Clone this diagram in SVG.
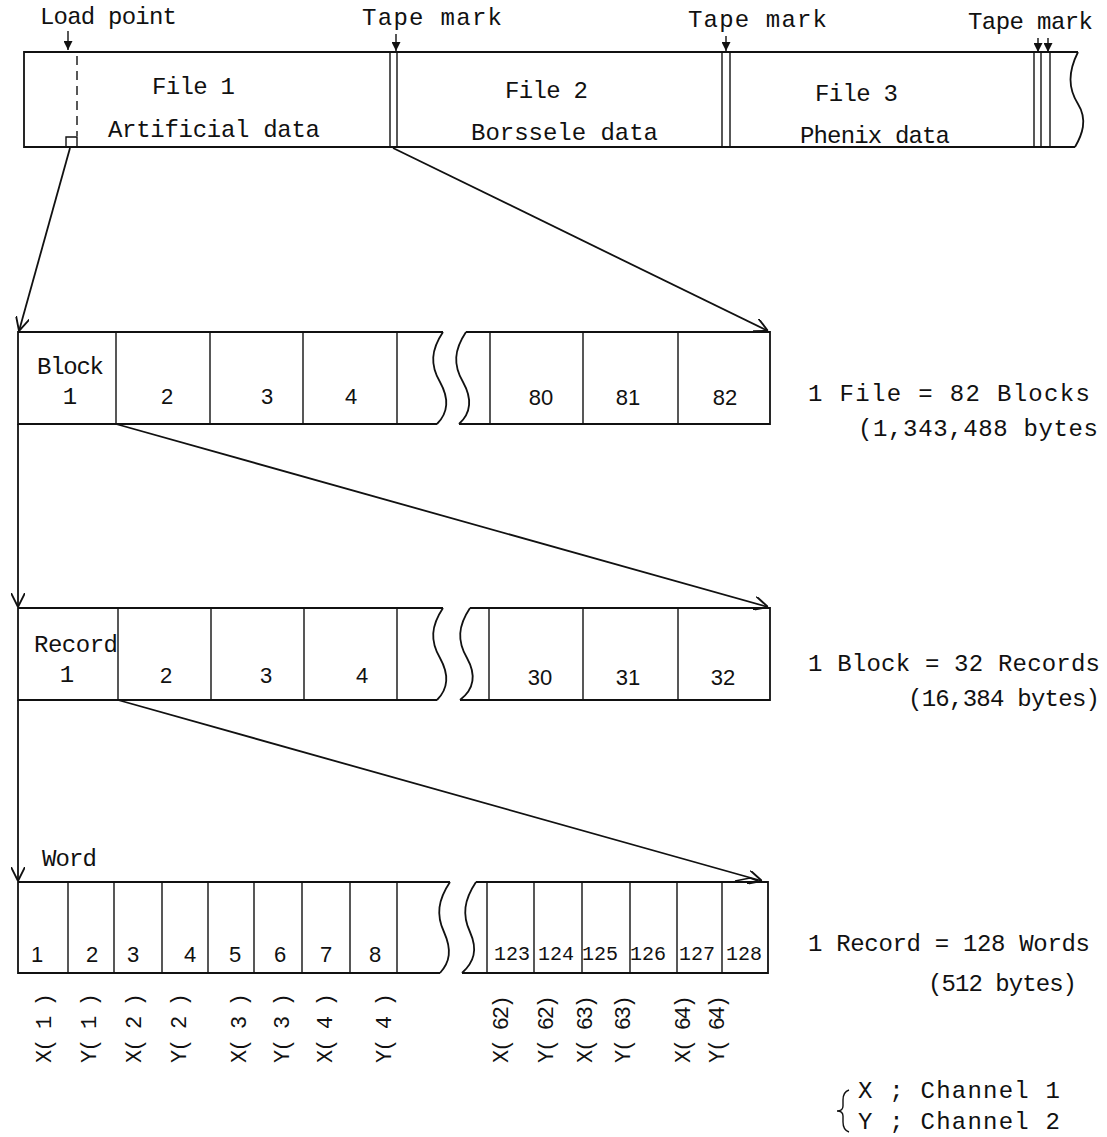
<svg xmlns="http://www.w3.org/2000/svg" width="1107" height="1137" viewBox="0 0 1107 1137">
<style>
.ln{stroke:#111;stroke-width:1.8;fill:none}
.thin{stroke:#111;stroke-width:1.4;fill:none}
.t{font-family:"Liberation Mono","DejaVu Sans Mono",monospace;font-size:24px;fill:#111}
.n{font-family:"Liberation Sans",Arial,sans-serif;font-size:22px;fill:#111;text-anchor:middle}
.w{font-family:"Liberation Mono","DejaVu Sans Mono",monospace;font-size:20px;fill:#111;text-anchor:middle}
.r{font-family:"Liberation Mono","DejaVu Sans Mono",monospace;font-size:22px;fill:#111;dominant-baseline:central}
</style>
<defs>
<marker id="open" viewBox="0 0 12 12" refX="12" refY="6" markerWidth="14" markerHeight="14" markerUnits="userSpaceOnUse" orient="auto">
<path d="M0,0 L12,6 L0,12" fill="none" stroke="#111" stroke-width="1.6"/>
</marker>
<marker id="solid" viewBox="0 0 10 10" refX="10" refY="5" markerWidth="9" markerHeight="9" markerUnits="userSpaceOnUse" orient="auto">
<path d="M0,0 L10,5 L0,10 Z" fill="#111"/>
</marker>
</defs>
<rect width="1107" height="1137" fill="#fff"/>

<g id="tape">
<path class="ln" d="M1078,52 L24,52 L24,147 L1075,147"/>
<path class="ln" d="M1078,52 C1068,72 1068,88 1078,104 C1088,120 1082,135 1075,147"/>
<line class="thin" x1="390" y1="52" x2="390" y2="147"/>
<line class="thin" x1="397" y1="52" x2="397" y2="147"/>
<line class="thin" x1="722" y1="52" x2="722" y2="147"/>
<line class="thin" x1="730" y1="52" x2="730" y2="147"/>
<line class="thin" x1="1034" y1="52" x2="1034" y2="147"/>
<line class="thin" x1="1041" y1="52" x2="1041" y2="147"/>
<line class="thin" x1="1050" y1="52" x2="1050" y2="147"/>
<line class="thin" x1="77" y1="56" x2="77" y2="136" stroke-dasharray="9,6"/>
<path class="thin" d="M66,147 L66,137 L77,137 L77,147"/>
<text class="t" x="40" y="24" textLength="137" lengthAdjust="spacing">Load point</text>
<text class="t" x="362" y="25" textLength="140" lengthAdjust="spacing">Tape mark</text>
<text class="t" x="688" y="27" textLength="139" lengthAdjust="spacing">Tape mark</text>
<text class="t" x="968" y="29" textLength="125" lengthAdjust="spacing">Tape mark</text>
<text class="t" x="152" y="94" textLength="83" lengthAdjust="spacing">File 1</text>
<text class="t" x="108" y="137" textLength="212" lengthAdjust="spacing">Artificial data</text>
<text class="t" x="505" y="98" textLength="83" lengthAdjust="spacing">File 2</text>
<text class="t" x="471" y="140" textLength="187" lengthAdjust="spacing">Borssele data</text>
<text class="t" x="815" y="101" textLength="83" lengthAdjust="spacing">File 3</text>
<text class="t" x="800" y="143" textLength="150" lengthAdjust="spacing">Phenix data</text>
<line class="thin" x1="68" y1="31" x2="68" y2="50" marker-end="url(#solid)"/>
<line class="thin" x1="396" y1="34" x2="396" y2="51" marker-end="url(#solid)"/>
<line class="thin" x1="726" y1="36" x2="726" y2="51" marker-end="url(#solid)"/>
<line class="thin" x1="1038" y1="38" x2="1038" y2="52" marker-end="url(#solid)"/>
<line class="thin" x1="1048" y1="38" x2="1048" y2="52" marker-end="url(#solid)"/>
</g>

<g id="blocks">
<path class="ln" d="M443,332 L18,332 L18,424 L437,424"/>
<path class="ln" d="M443,332 C431,350 430,365 440,382 C450,400 447,414 437,424"/>
<path class="ln" d="M466,332 L770,332 L770,424 L459,424"/>
<path class="ln" d="M466,332 C454,350 453,365 463,382 C473,400 470,414 459,424"/>
<line class="thin" x1="116" y1="332" x2="116" y2="424"/>
<line class="thin" x1="210" y1="332" x2="210" y2="424"/>
<line class="thin" x1="303" y1="332" x2="303" y2="424"/>
<line class="thin" x1="397" y1="332" x2="397" y2="424"/>
<line class="thin" x1="490" y1="332" x2="490" y2="424"/>
<line class="thin" x1="583" y1="332" x2="583" y2="424"/>
<line class="thin" x1="678" y1="332" x2="678" y2="424"/>
<text class="t" x="37" y="374" textLength="67" lengthAdjust="spacing">Block</text>
<text class="t" x="70" y="404" text-anchor="middle">1</text>
<text class="n" x="167" y="404">2</text>
<text class="n" x="267" y="404">3</text>
<text class="n" x="351" y="404">4</text>
<text class="n" x="541" y="405">80</text>
<text class="n" x="628" y="405">81</text>
<text class="n" x="725" y="405">82</text>
<text class="t" x="808" y="401" textLength="282" lengthAdjust="spacing">1 File = 82 Blocks</text>
<text class="t" x="858" y="436" textLength="240" lengthAdjust="spacing">(1,343,488 bytes</text>
</g>

<g id="records">
<path class="ln" d="M443,608 L18,608 L18,700 L437,700"/>
<path class="ln" d="M443,608 C431,626 430,641 440,658 C450,676 447,690 437,700"/>
<path class="ln" d="M470,608 L770,608 L770,700 L460,700"/>
<path class="ln" d="M470,608 C458,626 457,641 467,658 C477,676 473,690 460,700"/>
<line class="thin" x1="118" y1="608" x2="118" y2="700"/>
<line class="thin" x1="211" y1="608" x2="211" y2="700"/>
<line class="thin" x1="304" y1="608" x2="304" y2="700"/>
<line class="thin" x1="397" y1="608" x2="397" y2="700"/>
<line class="thin" x1="489" y1="608" x2="489" y2="700"/>
<line class="thin" x1="583" y1="608" x2="583" y2="700"/>
<line class="thin" x1="678" y1="608" x2="678" y2="700"/>
<text class="t" x="34" y="652" textLength="84" lengthAdjust="spacing">Record</text>
<text class="t" x="67" y="682" text-anchor="middle">1</text>
<text class="n" x="166" y="683">2</text>
<text class="n" x="266" y="683">3</text>
<text class="n" x="362" y="683">4</text>
<text class="n" x="540" y="685">30</text>
<text class="n" x="628" y="685">31</text>
<text class="n" x="723" y="685">32</text>
<text class="t" x="808" y="671" textLength="292" lengthAdjust="spacing">1 Block = 32 Records</text>
<text class="t" x="908" y="706" textLength="192" lengthAdjust="spacing">(16,384 bytes)</text>
</g>

<g id="words">
<path class="ln" d="M450,882 L18,882 L18,973 L440,973"/>
<path class="ln" d="M450,882 C438,900 436,915 444,932 C452,950 450,962 440,973"/>
<path class="ln" d="M476,882 L768,882 L768,973 L462,973"/>
<path class="ln" d="M476,882 C464,900 462,915 470,932 C478,950 474,962 462,973"/>
<line class="thin" x1="68" y1="882" x2="68" y2="973"/>
<line class="thin" x1="114" y1="882" x2="114" y2="973"/>
<line class="thin" x1="162" y1="882" x2="162" y2="973"/>
<line class="thin" x1="208" y1="882" x2="208" y2="973"/>
<line class="thin" x1="254" y1="882" x2="254" y2="973"/>
<line class="thin" x1="302" y1="882" x2="302" y2="973"/>
<line class="thin" x1="350" y1="882" x2="350" y2="973"/>
<line class="thin" x1="397" y1="882" x2="397" y2="973"/>
<line class="thin" x1="487" y1="882" x2="487" y2="973"/>
<line class="thin" x1="534" y1="882" x2="534" y2="973"/>
<line class="thin" x1="582" y1="882" x2="582" y2="973"/>
<line class="thin" x1="630" y1="882" x2="630" y2="973"/>
<line class="thin" x1="677" y1="882" x2="677" y2="973"/>
<line class="thin" x1="722" y1="882" x2="722" y2="973"/>
<path class="thin" d="M735,881 L750,878 L758,881"/>
<text class="t" x="42" y="866" textLength="55" lengthAdjust="spacing">Word</text>
<text class="n" x="37" y="962">1</text>
<text class="n" x="92" y="962">2</text>
<text class="n" x="133" y="962">3</text>
<text class="n" x="190" y="962">4</text>
<text class="n" x="235" y="962">5</text>
<text class="n" x="280" y="962">6</text>
<text class="n" x="326" y="962">7</text>
<text class="n" x="375" y="962">8</text>
<text class="w" x="512" y="960" font-size="21">123</text>
<text class="w" x="556" y="960" font-size="21">124</text>
<text class="w" x="600" y="960" font-size="21">125</text>
<text class="w" x="648" y="960" font-size="21">126</text>
<text class="w" x="697" y="960" font-size="21">127</text>
<text class="w" x="744" y="960" font-size="21">128</text>
<text class="t" x="808" y="951" textLength="282" lengthAdjust="spacing">1 Record = 128 Words</text>
<text class="t" x="928" y="991" textLength="149" lengthAdjust="spacing">(512 bytes)</text>
</g>

<g id="channels">
<text class="r" transform="translate(45,1063) rotate(-90)" textLength="70" lengthAdjust="spacing">X( 1 )</text>
<text class="r" transform="translate(90,1063) rotate(-90)" textLength="70" lengthAdjust="spacing">Y( 1 )</text>
<text class="r" transform="translate(135,1063) rotate(-90)" textLength="70" lengthAdjust="spacing">X( 2 )</text>
<text class="r" transform="translate(180,1063) rotate(-90)" textLength="70" lengthAdjust="spacing">Y( 2 )</text>
<text class="r" transform="translate(240,1063) rotate(-90)" textLength="70" lengthAdjust="spacing">X( 3 )</text>
<text class="r" transform="translate(283,1063) rotate(-90)" textLength="70" lengthAdjust="spacing">Y( 3 )</text>
<text class="r" transform="translate(326,1063) rotate(-90)" textLength="70" lengthAdjust="spacing">X( 4 )</text>
<text class="r" transform="translate(385,1063) rotate(-90)" textLength="70" lengthAdjust="spacing">Y( 4 )</text>
<text class="r" transform="translate(502,1063) rotate(-90)" textLength="68" lengthAdjust="spacing">X( 62)</text>
<text class="r" transform="translate(547,1063) rotate(-90)" textLength="68" lengthAdjust="spacing">Y( 62)</text>
<text class="r" transform="translate(586,1063) rotate(-90)" textLength="68" lengthAdjust="spacing">X( 63)</text>
<text class="r" transform="translate(624,1063) rotate(-90)" textLength="68" lengthAdjust="spacing">Y( 63)</text>
<text class="r" transform="translate(684,1063) rotate(-90)" textLength="68" lengthAdjust="spacing">X( 64)</text>
<text class="r" transform="translate(718,1063) rotate(-90)" textLength="68" lengthAdjust="spacing">Y( 64)</text>
</g>

<g id="legend">
<path class="thin" d="M849,1090 Q843,1092 843,1100 L843,1106 Q843,1111 837,1111 Q843,1111 843,1116 L843,1122 Q843,1130 849,1132"/>
<text class="t" x="858" y="1098" textLength="202" lengthAdjust="spacing">X ; Channel 1</text>
<text class="t" x="858" y="1129" textLength="202" lengthAdjust="spacing">Y ; Channel 2</text>
</g>

<g id="connectors">
<line class="ln" x1="70" y1="148" x2="19" y2="331" marker-end="url(#open)"/>
<line class="ln" x1="393" y1="148" x2="768" y2="331" marker-end="url(#open)"/>
<line class="ln" x1="18" y1="424" x2="18" y2="607" marker-end="url(#open)"/>
<line class="ln" x1="116" y1="424" x2="768" y2="607" marker-end="url(#open)"/>
<line class="ln" x1="18" y1="700" x2="18" y2="881" marker-end="url(#open)"/>
<line class="ln" x1="118" y1="700" x2="762" y2="881" marker-end="url(#open)"/>
</g>
</svg>
